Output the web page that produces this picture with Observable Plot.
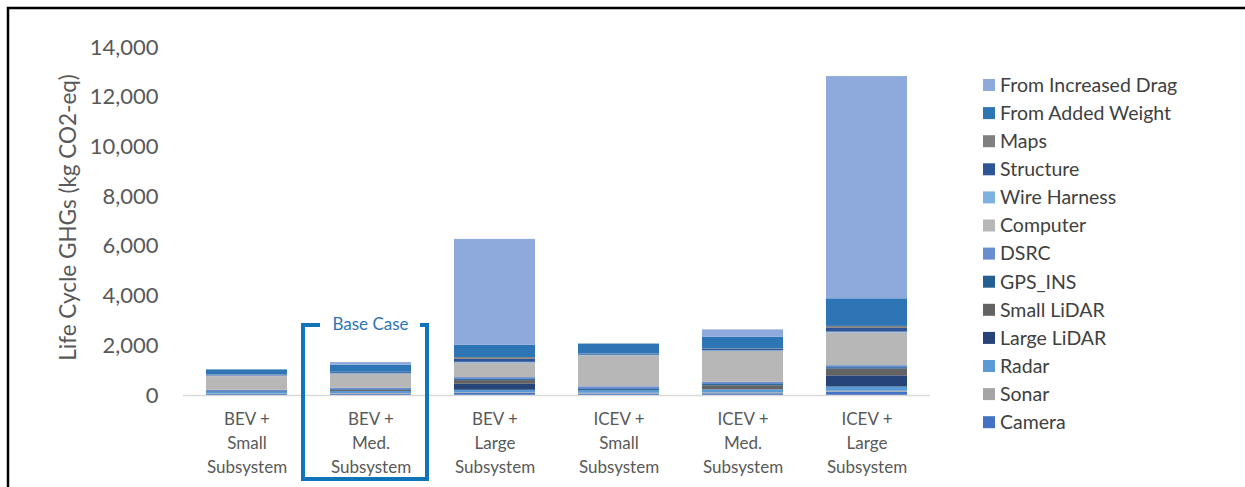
<!DOCTYPE html>
<html><head><meta charset="utf-8">
<script src="https://cdn.jsdelivr.net/npm/d3@7"></script>
<script src="https://cdn.jsdelivr.net/npm/@observablehq/plot@0.6"></script>
<style>body{margin:0;background:#fff;} #chart{position:relative;width:1245px;height:487px;}</style>
</head><body><div id="chart"></div>
<script>
// ---- data ----
const categories = ["BEV Small", "BEV Med", "BEV Large", "ICEV Small", "ICEV Med", "ICEV Large"];
const categoryLabels = ["BEV +\nSmall\nSubsystem", "BEV +\nMed.\nSubsystem", "BEV +\nLarge\nSubsystem",
  "ICEV +\nSmall\nSubsystem", "ICEV +\nMed.\nSubsystem", "ICEV +\nLarge\nSubsystem"];
// stack order, bottom to top
const components = ["Camera", "Sonar", "Radar", "Large LiDAR", "Small LiDAR", "GPS_INS", "DSRC",
  "Computer", "Wire Harness", "Structure", "Maps", "From Added Weight", "From Increased Drag"];
const componentColors = ["#4472C4", "#A5A5A5", "#5B9BD5", "#264478", "#636363", "#255E91", "#698ED0",
  "#B7B7B7", "#7FB1E0", "#2F5597", "#7F7F7F", "#2E75B6", "#8EA9DB"];
const camera      = [40, 50, 80, 60, 70, 130];
const sonar       = [20, 30, 30, 30, 40, 40];
const radar       = [60, 80, 100, 100, 120, 170];
const largeLidar  = [0, 0, 240, 0, 0, 450];
const smallLidar  = [0, 40, 150, 0, 160, 270];
const gpsIns      = [30, 30, 40, 50, 50, 60];
const dsrc        = [60, 60, 80, 110, 90, 80];
const computer    = [550, 560, 575, 1240, 1240, 1310];
const wireHarness = [30, 30, 40, 30, 30, 40];
const structure   = [30, 40, 120, 40, 50, 150];
const maps        = [10, 15, 70, 10, 20, 80];
const addedWeight = [200, 280, 495, 400, 470, 1110];
const increasedDrag = [0, 110, 4260, 0, 300, 8940];
const seriesValues = [camera, sonar, radar, largeLidar, smallLidar, gpsIns, dsrc, computer,
  wireHarness, structure, maps, addedWeight, increasedDrag];
const yTicks = [0, 2000, 4000, 6000, 8000, 10000, 12000, 14000];
const yTitle = "Life Cycle GHGs (kg CO2-eq)";
const baseCase = "BEV Med";
const baseCaseLabel = "Base Case";

const rows = [];
components.forEach((c, j) => categories.forEach((cat, i) =>
  rows.push({category: cat, component: c, value: seriesValues[j][i]})));

const font = "Lato, 'Open Sans', sans-serif";
const plot = Plot.plot({
  width: 1245, height: 487,
  marginLeft: 183, marginRight: 315, marginTop: 47, marginBottom: 92,
  style: {fontFamily: font, background: "#fff", overflow: "visible"},
  x: {domain: categories, paddingInner: 0.35, paddingOuter: 0.175, axis: null},
  y: {domain: [0, 14000], axis: null},
  color: {domain: components, range: componentColors},
  marks: [
    Plot.barY(rows, {x: "category", y: "value", fill: "component"}),
    Plot.ruleY([0], {stroke: "#d9d9d9", strokeWidth: 1.5}),
    Plot.axisY({ticks: yTicks, tickSize: 0, tickPadding: 25, tickFormat: d3.format(","),
      fontSize: 22, color: "#595959", label: null}),
    Plot.text(categories, {x: d => d, text: (d, i) => categoryLabels[i], frameAnchor: "bottom",
      lineAnchor: "top", dy: 13, fontSize: 17, lineHeight: 1.39, fill: "#595959"}),
    Plot.text([yTitle], {frameAnchor: "left", rotate: -90, dx: -115, dy: -4, textAnchor: "middle",
      fontSize: 22.5, fill: "#595959"})
  ]
});
document.getElementById("chart").appendChild(plot);

const svg = d3.select(plot);
// outer frame (left and top)
svg.append("path").attr("d", "M8,487 V8 H1245").attr("fill", "none")
  .attr("stroke", "#000").attr("stroke-width", 2.5);

// base case bracket
const xs = plot.scale("x");
const bStart = xs.apply(baseCase), bEnd = bStart + xs.bandwidth, cx = bStart + xs.bandwidth / 2;
const x0 = bStart - 27, x1 = bEnd + 16, yt = 325, yb = 479;
svg.append("path").attr("d", `M${x0 + 17},${yt} H${x0} V${yb} H${x1} V${yt} H${x1 - 7}`)
  .attr("fill", "none").attr("stroke", "#0F75B8").attr("stroke-width", 4);
svg.append("text").attr("x", cx).attr("y", yt).attr("dy", "0.3em").attr("text-anchor", "middle")
  .attr("font-family", font).attr("font-size", 17).attr("fill", "#2E75B6").text(baseCaseLabel);

// legend (top entry = top of stack)
const legendItems = components.slice().reverse();
const lg = svg.append("g").attr("font-family", font).attr("font-size", 19.5).attr("fill", "#404040")
  .attr("text-anchor", "start");
legendItems.forEach((c, i) => {
  const y = 85 + i * 28.1;
  lg.append("rect").attr("x", 983).attr("y", y - 6).attr("width", 12).attr("height", 12)
    .attr("fill", componentColors[components.indexOf(c)]);
  lg.append("text").attr("x", 1000).attr("y", y).attr("dy", "0.35em").text(c);
});
</script>
</body></html>
